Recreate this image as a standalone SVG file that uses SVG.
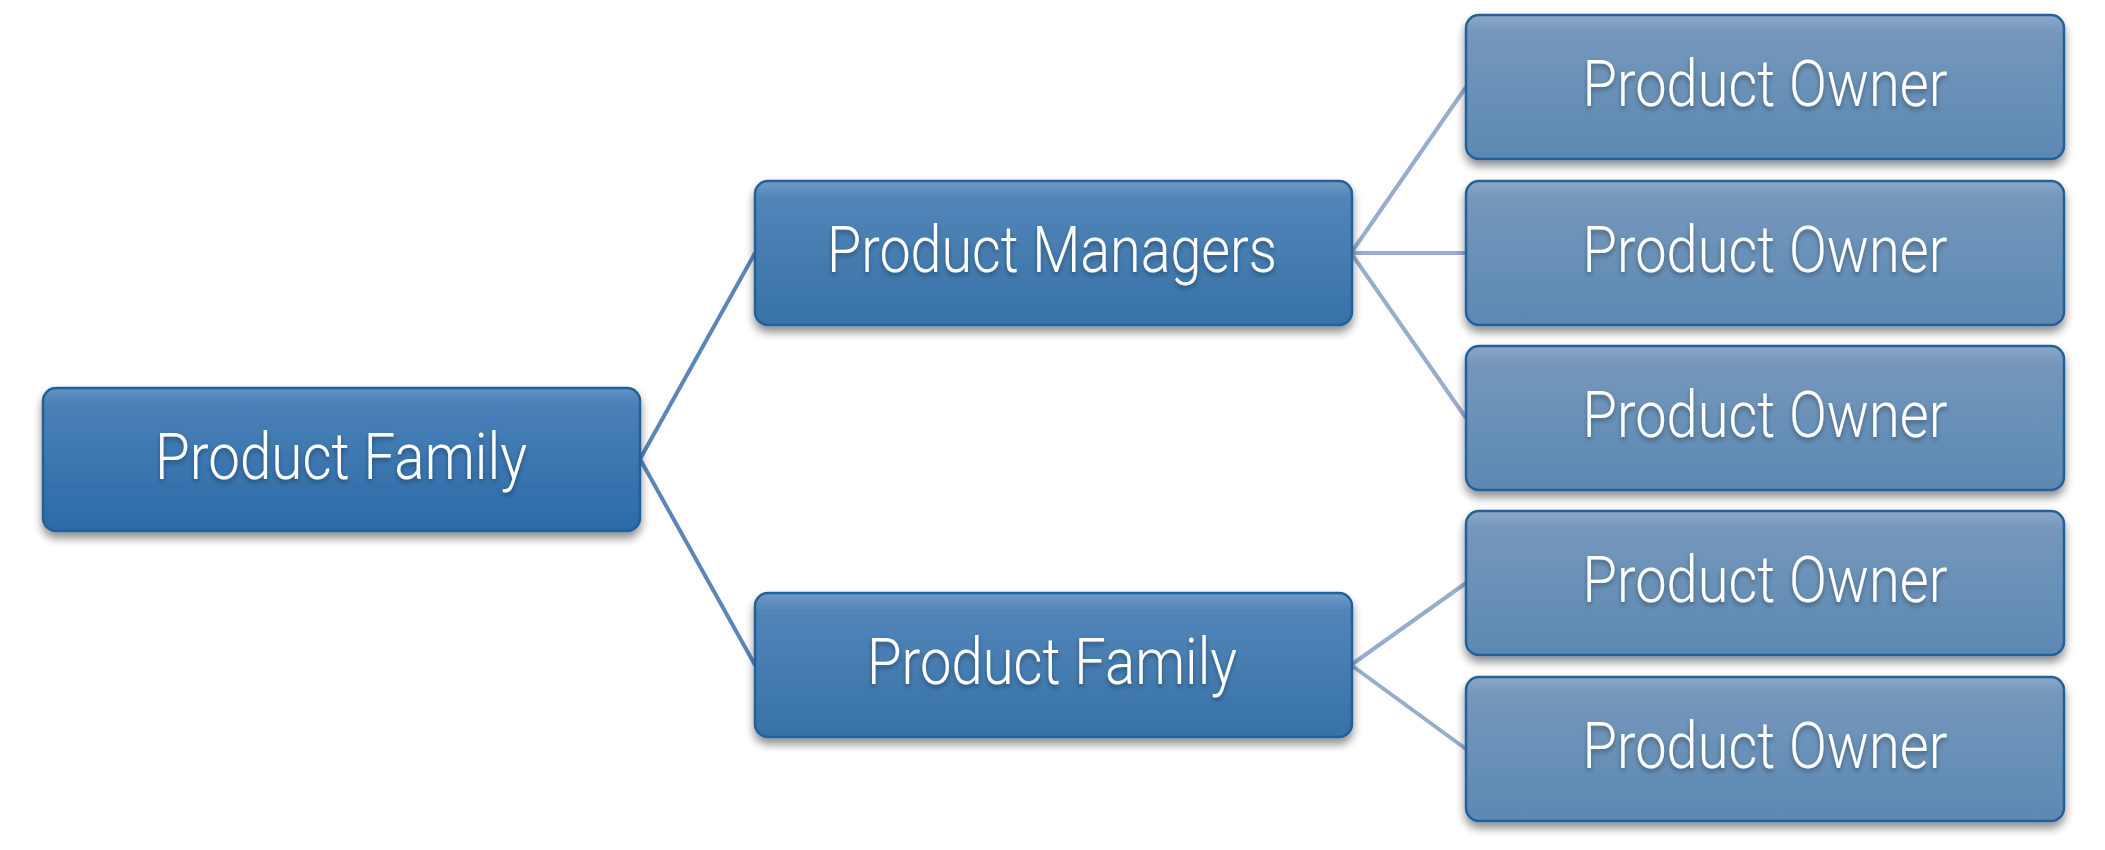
<svg xmlns="http://www.w3.org/2000/svg" width="2105" height="850" viewBox="0 0 2105 850">
<style>
.lbl{font-family:"Roboto","Liberation Sans",sans-serif;font-weight:300;font-size:64px;fill:#ffffff;text-anchor:middle;}
.box{stroke:#23609a;stroke-width:2.5;}
.c1{stroke:#5a86b8;stroke-width:4;fill:none;}
.c2{stroke:#97adcb;stroke-width:4;fill:none;}
</style>
<defs>
<linearGradient id="gRoot" x1="0" y1="0" x2="0" y2="1">
<stop offset="0" stop-color="#6293c6"/><stop offset="0.12" stop-color="#4a80b8"/><stop offset="1" stop-color="#2b6ba7"/>
</linearGradient>
<linearGradient id="gMid" x1="0" y1="0" x2="0" y2="1">
<stop offset="0" stop-color="#6f9ac6"/><stop offset="0.12" stop-color="#5285b8"/><stop offset="1" stop-color="#3672a7"/>
</linearGradient>
<linearGradient id="gPO" x1="0" y1="0" x2="0" y2="1">
<stop offset="0" stop-color="#8aa8c8"/><stop offset="0.12" stop-color="#7597bb"/><stop offset="1" stop-color="#5b89b3"/>
</linearGradient>
<filter id="sh" x="-10%" y="-20%" width="120%" height="150%">
<feGaussianBlur in="SourceAlpha" stdDeviation="5"/>
<feOffset dx="0" dy="6" result="b"/>
<feComponentTransfer><feFuncA type="linear" slope="0.45"/></feComponentTransfer>
<feMerge><feMergeNode/><feMergeNode in="SourceGraphic"/></feMerge>
</filter>
<filter id="tsh" x="-10%" y="-30%" width="120%" height="160%">
<feGaussianBlur in="SourceAlpha" stdDeviation="2.5"/>
<feOffset dx="0" dy="3"/>
<feComponentTransfer><feFuncA type="linear" slope="0.35"/></feComponentTransfer>
<feMerge><feMergeNode/><feMergeNode in="SourceGraphic"/></feMerge>
</filter>
</defs>
<rect width="2105" height="850" fill="#ffffff"/>
<g id="connectors">
<line class="c1" x1="640" y1="459" x2="755" y2="253"/>
<line class="c1" x1="640" y1="459" x2="755" y2="665"/>
<line class="c2" x1="1351" y1="253" x2="1466" y2="87"/>
<line class="c2" x1="1351" y1="253" x2="1466" y2="253"/>
<line class="c2" x1="1351" y1="253" x2="1466" y2="418"/>
<line class="c2" x1="1351" y1="665" x2="1466" y2="583"/>
<line class="c2" x1="1351" y1="665" x2="1466" y2="749"/>
</g>
<g id="root">
<rect class="box" x="43" y="388" width="597" height="143" rx="13" fill="url(#gRoot)" filter="url(#sh)"/>
<text class="lbl" x="341" y="479" textLength="372" lengthAdjust="spacingAndGlyphs" filter="url(#tsh)">Product Family</text>
</g>
<g id="managers">
<rect class="box" x="755" y="181" width="597" height="144" rx="13" fill="url(#gMid)" filter="url(#sh)"/>
<text class="lbl" x="1052" y="272" textLength="450" lengthAdjust="spacingAndGlyphs" filter="url(#tsh)">Product Managers</text>
</g>
<g id="family2">
<rect class="box" x="755" y="593" width="597" height="144" rx="13" fill="url(#gMid)" filter="url(#sh)"/>
<text class="lbl" x="1052" y="684" textLength="370" lengthAdjust="spacingAndGlyphs" filter="url(#tsh)">Product Family</text>
</g>
<g id="owner1">
<rect class="box" x="1466" y="15" width="598" height="144" rx="13" fill="url(#gPO)" filter="url(#sh)"/>
<text class="lbl" x="1765" y="106" textLength="365" lengthAdjust="spacingAndGlyphs" filter="url(#tsh)">Product Owner</text>
</g>
<g id="owner2">
<rect class="box" x="1466" y="181" width="598" height="144" rx="13" fill="url(#gPO)" filter="url(#sh)"/>
<text class="lbl" x="1765" y="272" textLength="365" lengthAdjust="spacingAndGlyphs" filter="url(#tsh)">Product Owner</text>
</g>
<g id="owner3">
<rect class="box" x="1466" y="346" width="598" height="144" rx="13" fill="url(#gPO)" filter="url(#sh)"/>
<text class="lbl" x="1765" y="437" textLength="365" lengthAdjust="spacingAndGlyphs" filter="url(#tsh)">Product Owner</text>
</g>
<g id="owner4">
<rect class="box" x="1466" y="511" width="598" height="144" rx="13" fill="url(#gPO)" filter="url(#sh)"/>
<text class="lbl" x="1765" y="602" textLength="365" lengthAdjust="spacingAndGlyphs" filter="url(#tsh)">Product Owner</text>
</g>
<g id="owner5">
<rect class="box" x="1466" y="677" width="598" height="144" rx="13" fill="url(#gPO)" filter="url(#sh)"/>
<text class="lbl" x="1765" y="768" textLength="365" lengthAdjust="spacingAndGlyphs" filter="url(#tsh)">Product Owner</text>
</g>
</svg>
